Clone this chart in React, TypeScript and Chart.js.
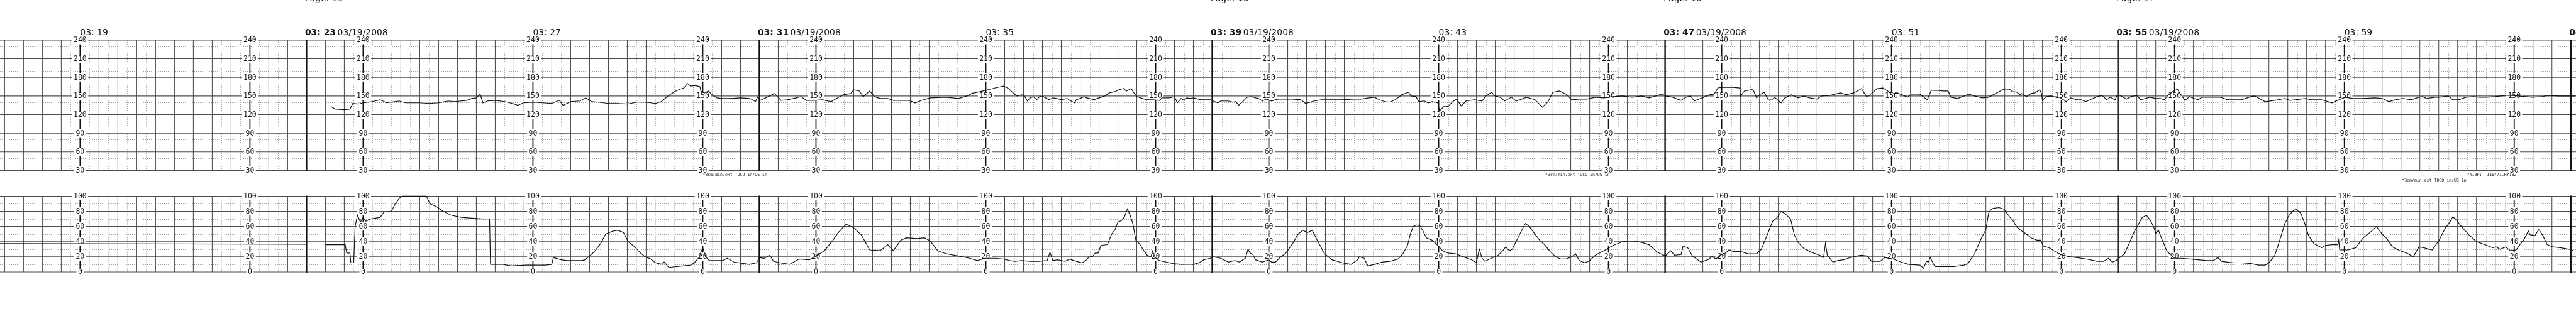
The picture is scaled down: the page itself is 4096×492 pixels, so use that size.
import React, { useEffect, useRef } from "react";
import { Chart, registerables } from "chart.js";

Chart.register(...registerables);

const W = 4096;
const H = 492;
const S = W / 5000;

// time axis: seconds after 03:15:00
const T_MIN = 155.1;
const T_MAX = 2885.5;

const fhrTicks = [240, 210, 180, 150, 120, 90, 60, 30];
const tocoTicks = [100, 80, 60, 40, 20, 0];

const timeLabels = ["03: 19", "03: 27", "03: 35", "03: 43", "03: 51", "03: 59"];
const timeLabelSeconds = [240, 720, 1200, 1680, 2160, 2640];
const panelLabels = ["03: 23", "03: 31", "03: 39", "03: 47", "03: 55", "04: 03"];
const panelSeconds = [480, 960, 1440, 1920, 2400, 2880];
const panelDate = "03/19/2008";
const pageLabels = ["Page: 15", "Page: 15", "Page: 16", "Page: 17"];
const pageSeconds = [480, 1440, 1920, 2400];
const noteTexts = ["*3cm/min,ext TOCO in/US in", "*3cm/min,ext TOCO in/US in", "*3cm/min,ext TOCO in/US in", "*NIBP:  118/71,Hr:82"];
const noteSeconds = [900, 1793, 2701, 2770];

const fhrTimes = [
  506, 510, 520, 526, 529, 535, 540, 550, 558, 565, 578, 585, 600, 610, 620, 630, 637, 650, 655, 660,
  664, 667, 672, 680, 690, 698, 704, 710, 720, 730, 740, 748, 752, 760, 770, 776, 782, 790, 800, 810,
  820, 830, 840, 850, 856, 860, 865, 870, 876, 880, 884, 887, 892, 897, 898, 902, 906, 910, 915, 920,
  930, 940, 950, 956, 958, 961, 968, 976, 983, 990, 999, 1004, 1010, 1018, 1027, 1036, 1043, 1049, 1057, 1060,
  1066, 1070, 1077, 1082, 1088, 1096, 1102, 1110, 1119, 1125, 1132, 1141, 1158, 1171, 1180, 1185, 1194, 1202, 1210, 1219,
  1224, 1229, 1233, 1238, 1241, 1244, 1247, 1250, 1254, 1257, 1261, 1267, 1271, 1275, 1280, 1286, 1289, 1294, 1296, 1300,
  1304, 1307, 1315, 1318, 1326, 1331, 1337, 1341, 1346, 1349, 1354, 1357, 1360, 1366, 1371, 1377, 1384, 1387, 1395, 1400,
  1403, 1407, 1410, 1413, 1417, 1420, 1428, 1433, 1438, 1441, 1446, 1449, 1457, 1462, 1465, 1468, 1473, 1477, 1482, 1486,
  1489, 1493, 1497, 1503, 1509, 1517, 1525, 1534, 1539, 1548, 1556, 1567, 1578, 1589, 1598, 1606, 1612, 1617, 1623, 1628,
  1634, 1641, 1648, 1651, 1656, 1659, 1665, 1669, 1673, 1679, 1681, 1686, 1690, 1695, 1699, 1704, 1709, 1718, 1726, 1730,
  1736, 1740, 1745, 1750, 1757, 1762, 1768, 1773, 1782, 1790, 1796, 1801, 1808, 1815, 1821, 1829, 1837, 1846, 1855, 1865,
  1875, 1885, 1895, 1903, 1908, 1914, 1918, 1921, 1928, 1933, 1937, 1942, 1947, 1951, 1956, 1961, 1967, 1972, 1976, 1981,
  1986, 1992, 1999, 2000, 2004, 2008, 2013, 2017, 2021, 2025, 2029, 2034, 2036, 2039, 2043, 2047, 2054, 2061, 2067, 2073,
  2081, 2086, 2095, 2100, 2106, 2112, 2120, 2125, 2128, 2134, 2138, 2145, 2151, 2156, 2160, 2166, 2171, 2177, 2181, 2190,
  2195, 2198, 2202, 2209, 2215, 2220, 2223, 2230, 2237, 2242, 2248, 2256, 2263, 2268, 2274, 2279, 2285, 2288, 2293, 2296,
  2298, 2303, 2308, 2312, 2317, 2319, 2320, 2324, 2329, 2332, 2338, 2345, 2350, 2356, 2361, 2366, 2372, 2378, 2383, 2388,
  2392, 2397, 2399, 2401, 2409, 2414, 2420, 2424, 2429, 2434, 2440, 2445, 2449, 2453, 2458, 2463, 2466, 2471, 2476, 2481,
  2485, 2489, 2494, 2501, 2509, 2516, 2521, 2531, 2541, 2545, 2556, 2566, 2577, 2582, 2588, 2599, 2605, 2616, 2627, 2633,
  2641, 2649, 2660, 2672, 2680, 2687, 2694, 2702, 2711, 2719, 2723, 2727, 2736, 2741, 2750, 2755, 2761, 2769, 2777, 2783,
  2791, 2800, 2811, 2816, 2825, 2839, 2850, 2855, 2867, 2878, 2885,
];
const fhrValues = [
  133, 129, 128, 129, 138, 137, 139, 141, 144, 139, 142, 139, 139, 138, 139, 142, 141, 143, 146, 147,
  153, 139, 142, 143, 141, 138, 135, 139, 140, 139, 138, 143, 135, 141, 142, 147, 141, 140, 138, 138,
  137, 140, 140, 138, 141, 146, 152, 157, 161, 163, 170, 166, 167, 165, 158, 155, 158, 152, 147, 146,
  146, 147, 146, 141, 148, 143, 148, 154, 143, 144, 147, 149, 143, 143, 144, 141, 147, 152, 154, 160,
  158, 149, 158, 149, 146, 146, 143, 143, 143, 139, 143, 147, 148, 146, 150, 154, 157, 160, 163, 166,
  162, 155, 150, 152, 150, 142, 147, 149, 144, 149, 149, 144, 147, 146, 144, 146, 143, 139, 144, 146,
  149, 147, 144, 146, 150, 155, 157, 160, 162, 158, 162, 155, 149, 146, 144, 144, 143, 147, 147, 149,
  139, 146, 143, 147, 146, 147, 144, 144, 144, 142, 139, 142, 142, 140, 141, 135, 142, 148, 149, 147,
  146, 142, 145, 142, 145, 145, 145, 144, 138, 142, 144, 144, 144, 145, 145, 147, 148, 144, 141, 140,
  144, 152, 156, 150, 149, 141, 142, 139, 141, 139, 126, 134, 133, 141, 145, 134, 142, 144, 142, 150,
  156, 150, 148, 142, 148, 142, 145, 148, 144, 132, 141, 156, 158, 153, 144, 145, 145, 148, 147, 149,
  150, 148, 150, 147, 149, 152, 152, 150, 148, 145, 143, 148, 150, 142, 145, 148, 152, 153, 163, 164,
  164, 164, 163, 150, 158, 159, 161, 147, 153, 156, 145, 145, 148, 144, 139, 147, 152, 147, 150, 147,
  145, 150, 151, 153, 155, 152, 155, 159, 162, 148, 153, 162, 163, 158, 153, 155, 152, 148, 153, 153,
  147, 144, 159, 159, 158, 158, 148, 146, 150, 153, 150, 147, 148, 152, 157, 161, 161, 157, 156, 152,
  154, 149, 154, 155, 160, 154, 143, 149, 150, 149, 148, 141, 147, 144, 144, 141, 145, 149, 151, 144,
  148, 144, 151, 152, 145, 149, 151, 144, 146, 148, 146, 146, 144, 151, 157, 161, 154, 143, 149, 146,
  144, 148, 148, 148, 148, 144, 144, 144, 149, 150, 141, 143, 146, 143, 144, 146, 144, 144, 139, 143,
  148, 146, 146, 147, 146, 141, 144, 146, 144, 148, 149, 146, 148, 148, 150, 144, 144, 148, 149, 148,
  148, 149, 151, 151, 150, 148, 149, 151, 150, 150, 150,
];

const tocoTimes = [
  155, 479, 490, 500, 521, 522.6, 526, 527, 530, 530.5, 531.5, 534, 537, 540, 543, 548, 558, 562, 570, 574,
  579, 582, 607, 611, 618, 625, 633, 644, 655, 667, 674, 675, 688, 697, 712, 733, 740, 741.6, 750, 756,
  772, 775, 781, 786, 792, 797, 805, 810, 816, 821, 828, 834, 839, 845, 850, 857, 859, 864, 879, 887,
  891, 896, 900, 903, 907, 921, 926, 933, 949, 957, 960, 965, 971, 975, 982, 992, 1002, 1013, 1020, 1029,
  1038, 1043, 1052, 1060, 1068, 1077, 1088, 1096, 1102, 1110, 1116, 1127, 1135, 1141, 1149, 1158, 1171, 1183, 1191, 1199,
  1210, 1219, 1225, 1231, 1238, 1247, 1256, 1265, 1268, 1271, 1276, 1284, 1289, 1293, 1302, 1307, 1310, 1313, 1316, 1319,
  1322, 1329, 1333, 1337, 1340, 1344, 1347, 1350, 1353, 1356, 1359, 1363, 1367, 1371, 1375, 1377, 1378, 1384, 1391, 1398,
  1407, 1420, 1426, 1431, 1438, 1441, 1449, 1457, 1464, 1469, 1475, 1478, 1480, 1483, 1486, 1493, 1500, 1503, 1507, 1511,
  1518, 1525, 1531, 1536, 1541, 1546, 1550, 1559, 1567, 1578, 1587, 1594, 1596, 1601, 1605, 1612, 1620, 1628, 1637, 1642,
  1647, 1650, 1653, 1656, 1660, 1663, 1667, 1673, 1679, 1684, 1690, 1698, 1706, 1715, 1720, 1723, 1726, 1729, 1734, 1743,
  1748, 1751, 1755, 1758, 1762, 1768, 1772, 1776, 1782, 1787, 1793, 1798, 1804, 1809, 1815, 1821, 1825, 1829, 1835, 1840,
  1846, 1855, 1865, 1875, 1885, 1895, 1903, 1911, 1918, 1921, 1926, 1930, 1937, 1939, 1944, 1949, 1958, 1967, 1969, 1974,
  1978, 1983, 1988, 1992, 2000, 2008, 2017, 2022, 2028, 2034, 2039, 2043, 2047, 2053, 2057, 2061, 2067, 2075, 2084, 2088,
  2090, 2092, 2098, 2103, 2109, 2114, 2123, 2128, 2134, 2139, 2148, 2153, 2162, 2170, 2178, 2190, 2194, 2197, 2199, 2201,
  2206, 2215, 2226, 2237, 2241, 2248, 2255, 2260, 2263, 2266, 2268, 2274, 2279, 2282, 2285, 2288, 2293, 2298, 2303, 2308,
  2314, 2318, 2321, 2327, 2332, 2339, 2349, 2356, 2367, 2378, 2385, 2390, 2394, 2398, 2401, 2407, 2412, 2418, 2421, 2425,
  2430, 2434, 2438, 2440, 2443, 2445, 2449, 2452, 2456, 2460, 2467, 2476, 2485, 2494, 2501, 2506, 2510, 2516, 2523, 2531,
  2541, 2549, 2556, 2560, 2566, 2571, 2577, 2581, 2585, 2589, 2594, 2598, 2602, 2608, 2616, 2620, 2627, 2633, 2634, 2635,
  2644, 2652, 2660, 2669, 2674, 2680, 2685, 2691, 2699, 2706, 2713, 2719, 2724, 2733, 2740, 2747, 2752, 2755, 2759, 2764,
  2772, 2780, 2789, 2797, 2801, 2805, 2811, 2816, 2822, 2826, 2830, 2835, 2837, 2842, 2846, 2850, 2855, 2861, 2869, 2878,
  2883,
];
const tocoValues = [
  37.5, 36.5, null, 36, 36, 25, 25, 12, 12, 28, 60, 75, 66, 72, 67, 70, 72, 79, 80, 90,
  98, 100, 100, 90, 86, 80, 75, 72, 71, 70, 70, 10, 10, 8, 9, 9, 10, 19, 16, 15,
  15, 16, 22, 28, 38, 50, 54, 55, 52, 40, 33, 25, 20, 17, 12, 10, 13, 6, 8, 9,
  12, 19, 32, 20, 15, 15, 18, 13, 10, 12, 19, 18, 22, 14, 12, 10, 17, 16, 21, 28,
  42, 51, 63, 58, 49, 29, 28, 36, 28, 42, 45, 44, 45, 41, 28, 24, 21, 18, 15, 18,
  18, 17, 15, 14, 15, 14, 14, 15, 26, 15, 16, 14, 17, 15, 12, 16, 21, 20, 25, 25,
  35, 36, 49, 56, 66, 68, 73, 83, 75, 63, 42, 37, 29, 22, 20, 28, 20, 15, 13, 11,
  10, 10, 12, 16, 18, 20, 18, 13, 15, 13, 18, 30, 25, 23, 16, 13, 16, 13, 13, 18,
  25, 37, 50, 55, 52, 55, 45, 24, 16, 12, 10, 16, 20, 18, 8, 10, 13, 14, 17, 24,
  35, 50, 60, 62, 61, 55, 45, 42, 35, 28, 25, 24, 20, 16, 12, 30, 18, 14, 17, 22,
  28, 33, 28, 30, 40, 55, 64, 60, 50, 42, 35, 27, 20, 17, 17, 20, 24, 15, 12, 15,
  22, 28, 35, 40, 41, 39, 36, 27, 22, 22, 28, 22, 23, 34, 32, 21, 13, 17, 21, 17,
  22, 24, 29, 27, 27, 24, 24, 30, 48, 67, 72, 80, 77, 70, 49, 39, 31, 26, 22, 19,
  38, 22, 13, 15, 16, 18, 21, 22, 21, 14, 14, 19, 17, 13, 10, 9, 5, 14, 13, 19,
  7, 7, 7, 9, 11, 24, 44, 56, 78, 83, 84, 85, 83, 78, 73, 69, 59, 54, 50, 45,
  42, 42, 34, 32, 28, 23, 20, 19, 17, 14, 14, 18, 13, 15, 18, 24, 38, 55, 61, 71,
  75, 69, 59, 51, 55, 48, 36, 27, 23, 18, 18, 17, 16, 15, 15, 19, 14, 13, 12, 12,
  11, 9, 9, 12, 21, 40, 64, 74, 80, 83, 77, 64, 48, 37, 32, 35, 36, 36, 42, 29,
  29, 32, 45, 54, 60, 50, 44, 33, 28, 25, 20, 33, 32, 29, 41, 58, 66, 73, 68, 60,
  49, 40, 36, 32, 33, 30, 33, 28, 29, 36, 42, 54, 49, 48, 56, 49, 36, 33, 32, 30,
  28,
];

// value-to-axis ranges chosen so both bands sit where the paper grid sits
const FHR_AXIS_MIN = 240 - (600 - 78) * 210 / 253;
const FHR_AXIS_MAX = 240 + 78 * 210 / 253;
const TOCO_AXIS_MIN = 100 - (600 - 381) / 1.47;
const TOCO_AXIS_MAX = 100 + 381 / 1.47;

const MAJOR = "#4c4c4c";
const MINOR = "#a0a0a0";

function drawBand(ctx: CanvasRenderingContext2D, xs: any, ys: any, lo: number, hi: number, major: number) {
  const top = ys.getPixelForValue(hi);
  const bot = ys.getPixelForValue(lo);
  const t0 = Math.ceil(T_MIN / 10) * 10;
  // minor dotted lines
  ctx.save();
  ctx.setLineDash([1, 2]);
  ctx.strokeStyle = MINOR;
  ctx.lineWidth = 1;
  ctx.beginPath();
  for (let v = lo; v <= hi; v += 10) {
    if (v % major === 0) continue;
    const y = Math.round(ys.getPixelForValue(v)) + 0.5;
    ctx.moveTo(0, y);
    ctx.lineTo(W, y);
  }
  for (let t = t0; t <= T_MAX; t += 10) {
    if (t % 20 === 0) continue;
    const x = Math.round(xs.getPixelForValue(t)) + 0.5;
    ctx.moveTo(x, top);
    ctx.lineTo(x, bot);
  }
  ctx.stroke();
  ctx.restore();
  // major solid lines
  ctx.save();
  ctx.strokeStyle = MAJOR;
  ctx.lineWidth = 1.05;
  ctx.beginPath();
  for (let v = lo; v <= hi; v += 10) {
    if (v % major !== 0) continue;
    const y = ys.getPixelForValue(v);
    ctx.moveTo(0, y);
    ctx.lineTo(W, y);
  }
  for (let t = t0; t <= T_MAX; t += 10) {
    if (t % 20 !== 0) continue;
    const m = t % 480;
    if (m === 0 || m === 60 || m === 240 || m === 420) continue;
    const x = xs.getPixelForValue(t);
    ctx.moveTo(x, top);
    ctx.lineTo(x, bot);
  }
  ctx.stroke();
  ctx.restore();
  // panel breaks
  ctx.save();
  ctx.strokeStyle = "#111";
  ctx.lineWidth = 2.4;
  ctx.beginPath();
  for (let t = 0; t <= T_MAX + 1; t += 480) {
    if (t < T_MIN) continue;
    const x = xs.getPixelForValue(t);
    ctx.moveTo(x, top - 1);
    ctx.lineTo(x, bot + 1);
  }
  ctx.stroke();
  ctx.restore();
}

function drawAxisColumns(ctx: CanvasRenderingContext2D, xs: any, ys: any, ticks: number[]) {
  const top = ys.getPixelForValue(ticks[0]);
  const bot = ys.getPixelForValue(ticks[ticks.length - 1]);
  ctx.save();
  ctx.font = `${14 * S}px "DejaVu Sans Mono", monospace`;
  ctx.textAlign = "center";
  ctx.textBaseline = "middle";
  for (let t = 0; t <= T_MAX; t += 60) {
    const m = t % 480;
    if (!(m === 60 || m === 240 || m === 420)) continue;
    if (t < T_MIN - 20) continue;
    const x = xs.getPixelForValue(t);
    ctx.strokeStyle = "#111";
    ctx.lineWidth = 1.8;
    ctx.beginPath();
    ctx.moveTo(x, top);
    ctx.lineTo(x, bot);
    ctx.stroke();
    for (const v of ticks) {
      const y = ys.getPixelForValue(v);
      const label = String(v);
      const tw = ctx.measureText(label).width;
      ctx.fillStyle = "#ffffff";
      ctx.fillRect(x - tw / 2 - 3 * S, y - 8 * S, tw + 6 * S, 16 * S);
      ctx.fillStyle = "#1a1a1a";
      ctx.fillText(label, x, y + 0.5);
    }
  }
  ctx.restore();
}

const ctgPlugin = {
  id: "ctgPaper",
  beforeDraw(chart: any) {
    const ctx = chart.ctx;
    ctx.save();
    ctx.fillStyle = "#ffffff";
    ctx.fillRect(0, 0, W, H);
    ctx.restore();
  },
  beforeDatasetsDraw(chart: any) {
    const ctx = chart.ctx as CanvasRenderingContext2D;
    const xs = chart.scales.x;
    const yf = chart.scales.yFhr;
    const yt = chart.scales.yToco;
    drawBand(ctx, xs, yf, 30, 240, 30);
    drawBand(ctx, xs, yt, 0, 100, 20);
    drawAxisColumns(ctx, xs, yf, fhrTicks);
    drawAxisColumns(ctx, xs, yt, tocoTicks);
  },
  afterDraw(chart: any) {
    const ctx = chart.ctx as CanvasRenderingContext2D;
    const xs = chart.scales.x;
    ctx.save();
    ctx.fillStyle = "#141414";
    ctx.textBaseline = "alphabetic";
    ctx.textAlign = "left";
    const base = 68 * S;
    ctx.font = `${17 * S}px "DejaVu Sans", sans-serif`;
    timeLabels.forEach((txt, i) => {
      ctx.fillText(txt, xs.getPixelForValue(timeLabelSeconds[i]), base);
    });
    panelLabels.forEach((txt, i) => {
      const x = xs.getPixelForValue(panelSeconds[i]) - 3 * S;
      ctx.font = `bold ${17 * S}px "DejaVu Sans", sans-serif`;
      ctx.fillText(txt, x, base);
      ctx.font = `${17 * S}px "DejaVu Sans", sans-serif`;
      ctx.fillText(panelDate, x + 63 * S, base);
    });
    ctx.font = `${17 * S}px "DejaVu Sans", sans-serif`;
    pageLabels.forEach((txt, i) => {
      ctx.fillText(txt, xs.getPixelForValue(pageSeconds[i]) - 3 * S, 2 * S);
    });
    ctx.font = `${8 * S}px "DejaVu Sans Mono", monospace`;
    ctx.fillStyle = "#222";
    noteTexts.forEach((txt, i) => {
      const row = i === 2 ? 353 : 342;
      ctx.fillText(txt, xs.getPixelForValue(noteSeconds[i]), row * S);
    });
    ctx.restore();
  },
};

export default function App() {
  const ref = useRef<HTMLCanvasElement | null>(null);
  useEffect(() => {
    if (!ref.current) return;
    const fhrPts = fhrTimes.map((t, i) => ({ x: t, y: fhrValues[i] }));
    const tocoPts = tocoTimes.map((t, i) => ({ x: t, y: tocoValues[i] }));
    const chart = new Chart(ref.current, {
      type: "line",
      data: {
        datasets: [
          {
            label: "FHR",
            data: fhrPts as any,
            yAxisID: "yFhr",
            borderColor: "#101010",
            borderWidth: 1.2,
            pointRadius: 0,
            tension: 0,
            spanGaps: false,
          },
          {
            label: "TOCO",
            data: tocoPts as any,
            yAxisID: "yToco",
            borderColor: "#101010",
            borderWidth: 1.2,
            pointRadius: 0,
            tension: 0,
            spanGaps: false,
          },
        ],
      },
      options: {
        animation: false,
        responsive: false,
        devicePixelRatio: 1,
        events: [],
        layout: { padding: 0 },
        plugins: { legend: { display: false }, tooltip: { enabled: false }, title: { display: false } },
        scales: {
          x: { type: "linear", min: T_MIN, max: T_MAX, display: false },
          yFhr: { type: "linear", min: FHR_AXIS_MIN, max: FHR_AXIS_MAX, display: false },
          yToco: { type: "linear", min: TOCO_AXIS_MIN, max: TOCO_AXIS_MAX, display: false },
        },
      },
      plugins: [ctgPlugin],
    });
    return () => chart.destroy();
  }, []);
  return (
    <div style={{ position: "fixed", left: 0, top: 0, width: W, height: H, background: "#fff" }}>
      <canvas ref={ref} width={W} height={H} style={{ display: "block", width: W, height: H }} />
    </div>
  );
}
